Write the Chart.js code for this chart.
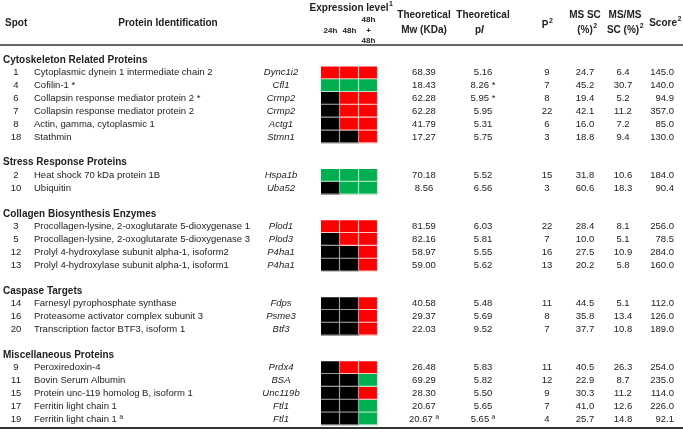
<!DOCTYPE html>
<html>
<head>
<meta charset="utf-8">
<script src="https://cdn.jsdelivr.net/npm/chart.js@4.4.1/dist/chart.umd.min.js"></script>
<style>
  html, body { margin: 0; padding: 0; background: #fff; }
  #wrap { width: 683px; height: 434px; position: relative; }
</style>
</head>
<body>
<div id="wrap"><canvas id="chart"></canvas></div>
<script>
const sectionTitles = [
  "Cytoskeleton Related Proteins",
  "Stress Response Proteins",
  "Collagen Biosynthesis Enzymes",
  "Caspase Targets",
  "Miscellaneous Proteins"
];
const sectionSizes = [6, 2, 4, 3, 5];

const spots = [1, 4, 6, 7, 8, 18, 2, 10, 3, 5, 12, 13, 14, 16, 20, 9, 11, 15, 17, 19];
const proteins = [
  "Cytoplasmic dynein 1 intermediate chain 2",
  "Cofilin-1 *",
  "Collapsin response mediator protein 2 *",
  "Collapsin response mediator protein 2",
  "Actin, gamma, cytoplasmic 1",
  "Stathmin",
  "Heat shock 70 kDa protein 1B",
  "Ubiquitin",
  "Procollagen-lysine, 2-oxoglutarate 5-dioxygenase 1",
  "Procollagen-lysine, 2-oxoglutarate 5-dioxygenase 3",
  "Prolyl 4-hydroxylase subunit alpha-1, isoform2",
  "Prolyl 4-hydroxylase subunit alpha-1, isoform1",
  "Farnesyl pyrophosphate synthase",
  "Proteasome activator complex subunit 3",
  "Transcription factor BTF3, isoform 1",
  "Peroxiredoxin-4",
  "Bovin Serum Albumin",
  "Protein unc-119 homolog B, isoform 1",
  "Ferritin light chain 1",
  "Ferritin light chain 1 \u00aa"
];
const genes = ["Dync1i2", "Cfl1", "Crmp2", "Crmp2", "Actg1", "Stmn1", "Hspa1b", "Uba52",
  "Plod1", "Plod3", "P4ha1", "P4ha1", "Fdps", "Psme3", "Btf3",
  "Prdx4", "BSA", "Unc119b", "Ftl1", "Ftl1"];

// expression level: 1 = up (red), -1 = down (green), 0 = unchanged (black)
const timeLabels = ["24h", "48h", "48h + 48h"];
const expr24h    = [1, -1, 0, 0, 0, 0, -1, 0, 1, 0, 0, 0, 0, 0, 0, 0, 0, 0, 0, 0];
const expr48h    = [1, -1, 1, 1, 1, 0, -1, -1, 1, 1, 0, 0, 0, 0, 0, 1, 0, 0, 0, 0];
const expr48h48h = [1, -1, 1, 1, 1, 1, -1, -1, 1, 1, 1, 1, 1, 1, 1, 1, -1, 1, -1, -1];

const mw = [68.39, 18.43, 62.28, 62.28, 41.79, 17.27, 70.18, 8.56, 81.59, 82.16, 58.97, 59.00,
  40.58, 29.37, 22.03, 26.48, 69.29, 28.30, 20.67, 20.67];
const mwNote = ["", "", "", "", "", "", "", "", "", "", "", "", "", "", "", "", "", "", "", "\u00aa"];
const pI = [5.16, 8.26, 5.95, 5.95, 5.31, 5.75, 5.52, 6.56, 6.03, 5.81, 5.55, 5.62,
  5.48, 5.69, 9.52, 5.83, 5.82, 5.50, 5.65, 5.65];
const pINote = ["", "*", "*", "", "", "", "", "", "", "", "", "", "", "", "", "", "", "", "", "\u00aa"];
const peptides = [9, 7, 8, 22, 6, 3, 15, 3, 22, 7, 16, 13, 11, 8, 7, 11, 12, 9, 7, 4];
const msSC = [24.7, 45.2, 19.4, 42.1, 16.0, 18.8, 31.8, 60.6, 28.4, 10.0, 27.5, 20.2,
  44.5, 35.8, 37.7, 40.5, 22.9, 30.3, 41.0, 25.7];
const msmsSC = [6.4, 30.7, 5.2, 11.2, 7.2, 9.4, 10.6, 18.3, 8.1, 5.1, 10.9, 5.8,
  5.1, 13.4, 10.8, 26.3, 8.7, 11.2, 12.6, 14.8];
const scores = [145.0, 140.0, 94.9, 357.0, 85.0, 130.0, 184.0, 90.4, 256.0, 78.5, 284.0, 160.0,
  112.0, 126.0, 189.0, 254.0, 235.0, 114.0, 226.0, 92.1];

// ---- layout ----
const W = 683, H = 434;
const ROW = 12.82;          // px per table line
const FIRST = 60;           // px of the first section title
const yMin = -FIRST / ROW;
const yMax = yMin + H / ROW;
const hy = px => px / ROW + yMin;   // header positions in line units

const HEAT_X = [321, 340, 359, 378];
const FONT = '"Liberation Sans", Arial, sans-serif';
const TEXT = '#222';

// slot (line) index of every section title and row
const titleSlot = [];
const rowSlot = [];
let slot = 0;
sectionSizes.forEach(n => {
  titleSlot.push(slot++);
  for (let i = 0; i < n; i++) rowSlot.push(slot++);
  slot++; // blank line between sections
});

const fill = { "1": "#ff0000", "-1": "#00b050", "0": "#000000" };
const grid = { "1": "#ffc4c4", "-1": "#b8e8cb", "0": "#9a9a9a" };

const exprCols = [expr24h, expr48h, expr48h48h];
const datasets = exprCols.map((vals, c) => ({
  label: timeLabels[c],
  data: vals.map((v, i) => ({ x: [HEAT_X[c], HEAT_X[c + 1]], y: rowSlot[i] })),
  backgroundColor: vals.map(v => fill[v]),
  borderColor: vals.map(v => grid[v]),
  borderWidth: { top: 0, left: 0, right: 1.4, bottom: 1.4 },
  borderSkipped: false,
  grouped: false,
  barPercentage: 1,
  categoryPercentage: 1
}));

const tableText = {
  id: 'tableText',
  afterDatasetsDraw(chart) {
    const { ctx, scales: { x, y } } = chart;
    const px = v => x.getPixelForValue(v);
    const py = v => y.getPixelForValue(v);
    const put = (txt, xv, yv, font, align) => {
      ctx.font = font;
      ctx.textAlign = align || 'center';
      ctx.fillText(txt, px(xv), py(yv));
    };
    const hb = 'bold 10px ' + FONT;
    const hs = 'bold 8px ' + FONT;
    // header text with a raised footnote number, centred as a whole
    const sup = (txt, mark, xv, yPx) => {
      ctx.font = hb;
      const w1 = ctx.measureText(txt).width;
      ctx.font = 'bold 7px ' + FONT;
      const w2 = ctx.measureText(mark).width;
      const left = px(xv) - (w1 + w2) / 2;
      ctx.textAlign = 'left';
      ctx.font = hb;
      ctx.fillText(txt, left, py(hy(yPx)));
      ctx.font = 'bold 7px ' + FONT;
      ctx.fillText(mark, left + w1 + 0.5, py(hy(yPx - 4)));
    };
    ctx.save();
    ctx.fillStyle = TEXT;
    ctx.textBaseline = 'middle';

    // column headers
    put("Spot", 5, hy(23), hb, 'left');
    put("Protein Identification", 168, hy(23), hb);
    sup("Expression level", "1", 351, 8.5);
    put("24h", 330.5, hy(31), hs);
    put("48h", 349.5, hy(31), hs);
    put("48h", 368.5, hy(20), hs);
    put("+", 368.5, hy(30.5), hs);
    put("48h", 368.5, hy(41), hs);
    put("Theoretical", 424, hy(15), hb);
    put("Mw (KDa)", 424, hy(30), hb);
    put("Theoretical", 483, hy(15), hb);
    put("p", 481, hy(30), hb, 'right');
    put("I", 481, hy(30), 'italic ' + hb, 'left');
    sup("P", "2", 547, 25.5);
    put("MS SC", 585, hy(15), hb);
    sup("(%)", "2", 587, 30.5);
    put("MS/MS", 625, hy(15), hb);
    sup("SC (%)", "2", 625, 30.5);
    sup("Score", "2", 665, 23.5);

    // section titles
    sectionTitles.forEach((t, k) => put(t, 3, titleSlot[k], 'bold 10px ' + FONT, 'left'));

    // rows
    const f = '9.5px ' + FONT;
    rowSlot.forEach((s, i) => {
      put(String(spots[i]), 16, s, f);
      put(proteins[i], 34, s, f, 'left');
      put(genes[i], 281, s, 'italic ' + f);
      put(mw[i].toFixed(2) + (mwNote[i] ? ' ' + mwNote[i] : ''), 424, s, f);
      put(pI[i].toFixed(2) + (pINote[i] ? ' ' + pINote[i] : ''), 483, s, f);
      put(String(peptides[i]), 547, s, f);
      put(msSC[i].toFixed(1), 585, s, f);
      put(msmsSC[i].toFixed(1), 623, s, f);
      put(scores[i].toFixed(1), 674, s, f, 'right');
    });

    // rules
    ctx.lineWidth = 2;
    ctx.strokeStyle = '#666';
    ctx.beginPath();
    ctx.moveTo(px(0), py(hy(45)));
    ctx.lineTo(px(W), py(hy(45)));
    ctx.stroke();
    ctx.strokeStyle = '#333';
    const bottom = rowSlot[rowSlot.length - 1] + 0.7;
    ctx.beginPath();
    ctx.moveTo(px(0), py(bottom));
    ctx.lineTo(px(W), py(bottom));
    ctx.stroke();
    ctx.restore();
  }
};

new Chart(document.getElementById('chart'), {
  type: 'bar',
  data: { datasets },
  options: {
    indexAxis: 'y',
    responsive: true,
    maintainAspectRatio: false,
    animation: false,
    layout: { padding: 0 },
    plugins: { legend: { display: false }, tooltip: { enabled: false } },
    scales: {
      x: { type: 'linear', min: 0, max: W, display: false },
      y: { type: 'linear', min: yMin, max: yMax, reverse: true, offset: false, display: false }
    }
  },
  plugins: [tableText]
});
</script>
</body>
</html>
